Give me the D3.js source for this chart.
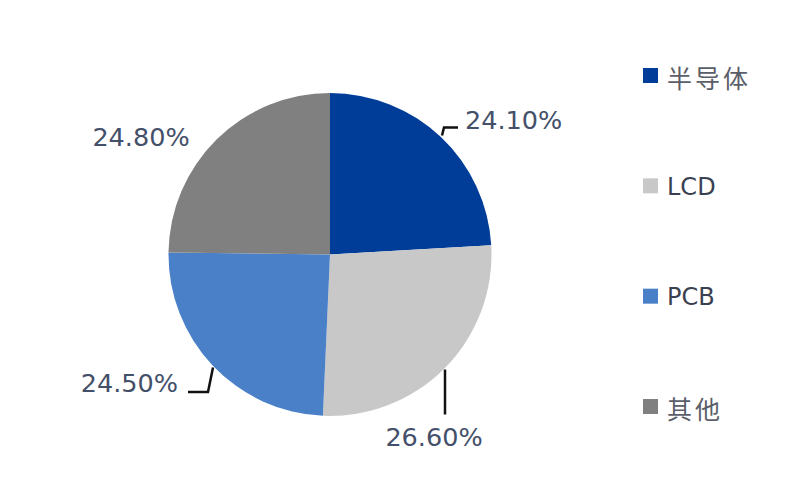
<!DOCTYPE html>
<html><head><meta charset="utf-8">
<script src="https://cdn.jsdelivr.net/npm/d3@7"></script>
<style>body{margin:0;background:#fff}svg{display:block}</style>
</head><body>
<script>
const categories = ["半导体", "LCD", "PCB", "其他"];
const values = [24.1, 26.6, 24.5, 24.8];
const valueLabels = ["24.10%", "26.60%", "24.50%", "24.80%"];
const colors = ["#003D99", "#C8C8C8", "#4A80C8", "#808080"];

const W = 800, H = 479;
const svg = d3.select("body").append("svg").attr("width", W).attr("height", H);
const cx = 330, cy = 254.5, R = 161.5;

const pie = d3.pie().sort(null).value(d => d)(values);
const arc = d3.arc().innerRadius(0).outerRadius(R);
const g = svg.append("g").attr("transform", `translate(${cx},${cy})`);
g.selectAll("path").data(pie).join("path")
  .attr("d", arc).attr("fill", (d, i) => colors[i]);

// leader lines (relative to centre)
const leaders = [
  [[112, -119], [114, -127], [128, -127]],
  [[115, 115], [115, 160]],
  [[-117, 113], [-122, 137.5], [-142, 137.5]],
  null
];
leaders.forEach(pts => {
  if (!pts) return;
  g.append("path").attr("d", d3.line()(pts)).attr("fill", "none")
    .attr("stroke", "#111").attr("stroke-width", 2.5);
});

const labelPos = [
  {x: 135, y: -135, a: "start"},
  {x: 104, y: 182, a: "middle"},
  {x: -152, y: 128, a: "end"},
  {x: -189, y: -118, a: "middle"}
];
g.selectAll("text.lbl").data(valueLabels).join("text")
  .attr("class", "lbl")
  .attr("x", (d, i) => labelPos[i].x).attr("y", (d, i) => labelPos[i].y)
  .attr("text-anchor", (d, i) => labelPos[i].a)
  .attr("dominant-baseline", "central")
  .attr("font-family", "DejaVu Sans, sans-serif").attr("font-size", 25.5)
  .attr("fill", "#44506A")
  .text(d => d);

// legend
const ly = d3.scalePoint().domain(categories).range([75.5, 406.5]);
const leg = svg.append("g");
leg.selectAll("rect").data(categories).join("rect")
  .attr("x", 643).attr("y", d => ly(d) - 7.5).attr("width", 15).attr("height", 15)
  .attr("fill", (d, i) => colors[i]);
leg.selectAll("text").data(categories).join("text")
  .attr("x", 667).attr("y", d => ly(d) + 1)
  .attr("dominant-baseline", "central")
  .attr("font-family", d => /[A-Z]/.test(d) ? "DejaVu Sans, sans-serif" : "Noto Sans CJK SC, sans-serif")
  .attr("font-size", d => /[A-Z]/.test(d) ? 24 : 25)
  .attr("letter-spacing", d => /[A-Z]/.test(d) ? 0 : 3)
  .attr("fill", d => /[A-Z]/.test(d) ? "#3A4050" : "#5A5E68")
  .text(d => d);
</script>
</body></html>
